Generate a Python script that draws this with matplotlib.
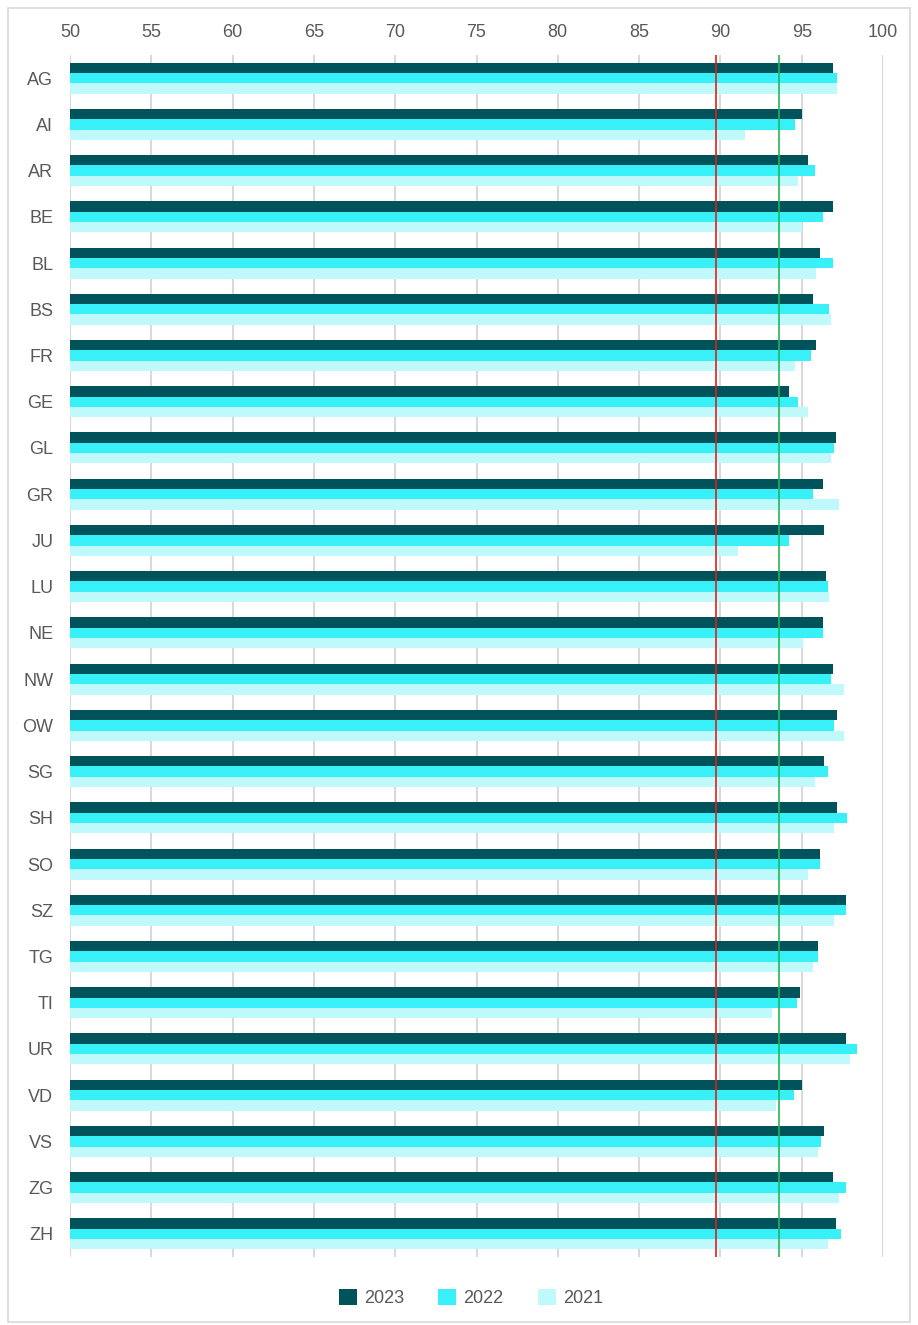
import matplotlib.pyplot as plt
import matplotlib.patches as mpatches
import numpy as np

# cantons, top to bottom
cantons = ['AG', 'AI', 'AR', 'BE', 'BL', 'BS', 'FR', 'GE', 'GL', 'GR', 'JU', 'LU', 'NE',
           'NW', 'OW', 'SG', 'SH', 'SO', 'SZ', 'TG', 'TI', 'UR', 'VD', 'VS', 'ZG', 'ZH']

vals_2023 = [96.9, 95.0, 95.4, 96.9, 96.1, 95.7, 95.9, 94.2, 97.1, 96.3, 96.4, 96.5, 96.3,
             96.9, 97.2, 96.4, 97.2, 96.1, 97.7, 96.0, 94.9, 97.7, 95.0, 96.4, 96.9, 97.1]
vals_2022 = [97.2, 94.6, 95.8, 96.3, 96.9, 96.7, 95.6, 94.8, 97.0, 95.7, 94.2, 96.6, 96.3,
             96.8, 97.0, 96.6, 97.8, 96.1, 97.7, 96.0, 94.7, 98.4, 94.5, 96.2, 97.7, 97.4]
vals_2021 = [97.2, 91.5, 94.8, 95.0, 95.9, 96.8, 94.6, 95.4, 96.8, 97.3, 91.1, 96.7, 95.1,
             97.6, 97.6, 95.8, 97.0, 95.4, 97.0, 95.7, 93.2, 98.0, 93.4, 96.0, 97.3, 96.6]
years = ['2023', '2022', '2021']

red_ref = 89.7
green_ref = 93.6

colors = ['#00535A', '#38F0F8', '#BFF9FC']
text_col = '#595959'

fig = plt.figure(figsize=(9.18, 13.25), dpi=100)
ax = fig.add_axes([70/918, 1-1257/1325, 813/918, 1202/1325])

y = np.arange(len(cantons))
h = 0.223
series = [vals_2023, vals_2022, vals_2021]
for i, (vals, c, lab) in enumerate(zip(series, colors, years)):
    ax.barh(y + (i - 1) * h, np.array(vals) - 50, left=50, height=h, color=c, label=lab, zorder=2)

ax.axvline(red_ref, color='#E0201B', lw=1.2, zorder=3)
ax.axvline(green_ref, color='#22B65A', lw=1.2, zorder=3)

ax.set_xlim(50, 100)
ax.set_ylim(len(cantons) - 0.5, -0.5)
ax.set_xticks(np.arange(50, 101, 5))
ax.set_yticks(y)
ax.set_yticklabels(cantons)
ax.xaxis.tick_top()
ax.tick_params(axis='x', length=0, pad=10, labelsize=13, labelcolor=text_col)
ax.tick_params(axis='y', length=0, pad=12, labelsize=13, labelcolor=text_col)
for lbl in ax.get_xticklabels() + ax.get_yticklabels():
    lbl.set_fontfamily('Liberation Sans')
for s in ax.spines.values():
    s.set_visible(False)
ax.grid(axis='x', color='#D9D9D9', lw=1.5, zorder=0)
ax.set_axisbelow(True)

# outer frame
fig.patches.append(mpatches.Rectangle((8/918, 3/1325), 902/918, 1314/1325, transform=fig.transFigure,
                                      fill=False, edgecolor='#D9D9D9', lw=1.2))

handles, labels = ax.get_legend_handles_labels()
leg = fig.legend(handles, labels, loc='center', bbox_to_anchor=(471/918, 1-1298/1325), ncol=3,
                 frameon=False, handlelength=1.0, handleheight=1.0, handletextpad=0.4,
                 columnspacing=1.9, prop={'family': 'Liberation Sans', 'size': 13})
for t in leg.get_texts():
    t.set_color(text_col)

fig.savefig('out.png', dpi=100)
